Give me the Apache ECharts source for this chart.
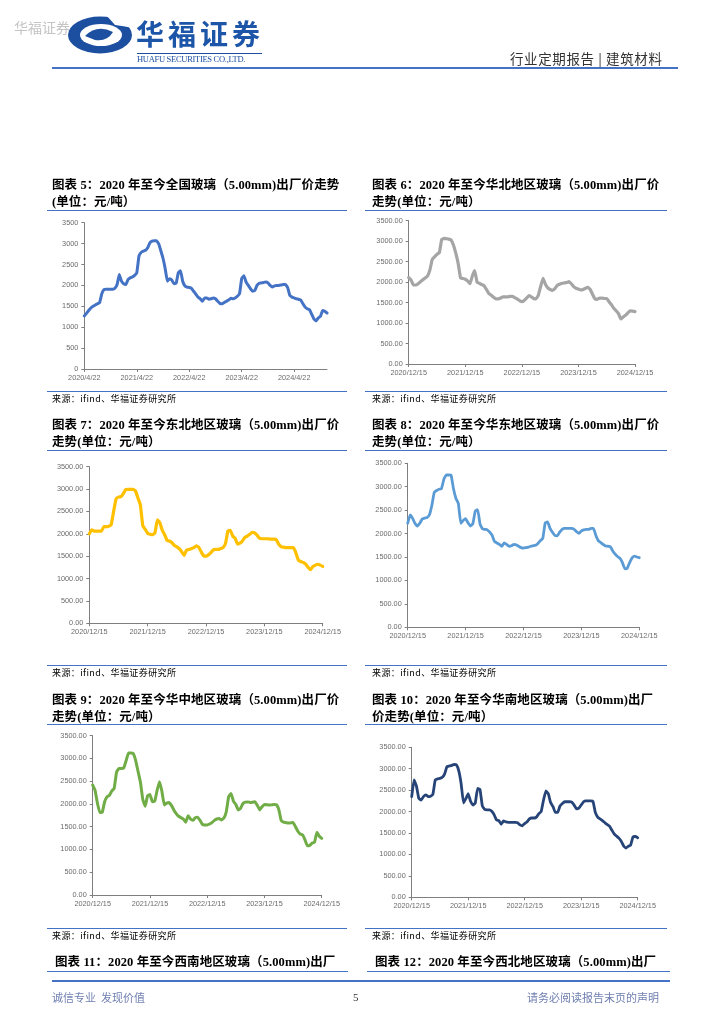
<!DOCTYPE html>
<html>
<head>
<meta charset="utf-8">
<script src="https://cdn.jsdelivr.net/npm/echarts@6/dist/echarts.min.js"></script>
<style>
body{margin:0;width:724px;height:1024px;background:#fff;position:relative;overflow:hidden;font-family:"Liberation Serif","Noto Sans CJK SC",serif;}
#chart{position:absolute;left:0;top:0;width:724px;height:1024px;}
.t{position:absolute;white-space:nowrap;}
.ttl{font-weight:bold;font-size:12.5px;color:#000;line-height:17px;letter-spacing:0.1px;}
.ln{position:absolute;height:0;border-top:1.5px solid #4472C4;}
.src{font-size:9px;color:#000;line-height:12px;font-family:"Noto Sans CJK SC",sans-serif;letter-spacing:0.4px;}
.foot{font-size:11px;color:#6f7fb0;line-height:14px;font-family:"Noto Sans CJK SC",sans-serif;}
</style>
</head>
<body>
<div id="chart"></div>

<!-- header -->
<div class="t" style="left:14px;top:17px;font-size:14px;color:#c4c4c4;font-family:'Noto Sans CJK SC';">华福证券</div>
<svg style="position:absolute;left:67px;top:16px;" width="66" height="38" viewBox="0 0 66 38">
  <ellipse cx="33" cy="19" rx="32" ry="18.5" fill="#1d4fa0"/>
  <ellipse cx="34" cy="19" rx="21" ry="11" fill="#fff"/>
  <path d="M18 20 Q30 8 46 16 Q40 26 28 24 Z" fill="#1d4fa0"/>
  <path d="M40 0 L66 0 L66 12 Q56 10 48 9 Z" fill="#fff"/>
</svg>
<div class="t" style="left:136px;top:17px;font-size:28px;font-weight:bold;color:#1d56a8;letter-spacing:4px;font-family:'Noto Sans CJK SC';line-height:32px;">华福证券</div>
<div class="ln" style="left:137px;top:53px;width:125px;border-top:1px solid #1d4fa0;"></div>
<div class="t" style="left:137px;top:54px;font-size:8.5px;color:#1d4fa0;letter-spacing:-0.3px;">HUAFU SECURITIES CO.,LTD.</div>
<div class="t" style="left:510px;top:48px;font-size:13.5px;color:#333;letter-spacing:0.6px;font-family:'Noto Sans CJK SC';">行业定期报告&nbsp;|&nbsp;建筑材料</div>
<div class="ln" style="left:52px;top:67px;width:626px;border-top:2px solid #4472C4;"></div>

<!-- row 1 -->
<div class="t ttl" style="left:52px;top:177px;">图表 5：2020 年至今全国玻璃（5.00mm)出厂价走势<br>(单位：元/吨）</div>
<div class="ln" style="left:47px;top:210px;width:300px;"></div>
<div class="ln" style="left:47px;top:391px;width:300px;"></div>
<div class="t src" style="left:52px;top:393px;">来源：ifind、华福证券研究所</div>

<div class="t ttl" style="left:372px;top:177px;">图表 6：2020 年至今华北地区玻璃（5.00mm)出厂价<br>走势(单位：元/吨）</div>
<div class="ln" style="left:365px;top:210px;width:302px;"></div>
<div class="ln" style="left:365px;top:391px;width:302px;"></div>
<div class="t src" style="left:372px;top:393px;">来源：ifind、华福证券研究所</div>

<!-- row 2 -->
<div class="t ttl" style="left:52px;top:417px;">图表 7：2020 年至今东北地区玻璃（5.00mm)出厂价<br>走势(单位：元/吨）</div>
<div class="ln" style="left:47px;top:450px;width:300px;"></div>
<div class="ln" style="left:47px;top:665px;width:300px;"></div>
<div class="t src" style="left:52px;top:667px;">来源：ifind、华福证券研究所</div>

<div class="t ttl" style="left:372px;top:417px;">图表 8：2020 年至今华东地区玻璃（5.00mm)出厂价<br>走势(单位：元/吨）</div>
<div class="ln" style="left:365px;top:450px;width:302px;"></div>
<div class="ln" style="left:365px;top:665px;width:302px;"></div>
<div class="t src" style="left:372px;top:667px;">来源：ifind、华福证券研究所</div>

<!-- row 3 -->
<div class="t ttl" style="left:52px;top:692px;">图表 9：2020 年至今华中地区玻璃（5.00mm)出厂价<br>走势(单位：元/吨）</div>
<div class="ln" style="left:47px;top:724px;width:300px;"></div>
<div class="ln" style="left:47px;top:928px;width:300px;"></div>
<div class="t src" style="left:52px;top:930px;">来源：ifind、华福证券研究所</div>

<div class="t ttl" style="left:372px;top:692px;">图表 10：2020 年至今华南地区玻璃（5.00mm)出厂<br>价走势(单位：元/吨）</div>
<div class="ln" style="left:365px;top:724px;width:302px;"></div>
<div class="ln" style="left:365px;top:928px;width:302px;"></div>
<div class="t src" style="left:372px;top:930px;">来源：ifind、华福证券研究所</div>

<!-- row 4 (cut) -->
<div class="t ttl" style="left:55px;top:954px;">图表 11：2020 年至今西南地区玻璃（5.00mm)出厂</div>
<div class="ln" style="left:47px;top:971px;width:301px;"></div>
<div class="t ttl" style="left:375px;top:954px;">图表 12：2020 年至今西北地区玻璃（5.00mm)出厂</div>
<div class="ln" style="left:367px;top:971px;width:303px;"></div>

<!-- footer -->
<div class="ln" style="left:52px;top:980px;width:618px;border-top:2px solid #4472C4;"></div>
<div class="t foot" style="left:52px;top:990px;">诚信专业&nbsp;&nbsp;发现价值</div>
<div class="t foot" style="left:353px;top:990px;color:#333;font-family:'Liberation Serif';">5</div>
<div class="t foot" style="left:527px;top:990px;">请务必阅读报告末页的声明</div>

<script>
// x axis tick labels
var ticks5 = ['2020/4/22', '2021/4/22', '2022/4/22', '2023/4/22', '2024/4/22'];
var ticksYear = ['2020/12/15', '2021/12/15', '2022/12/15', '2023/12/15', '2024/12/15'];

// 全国 (half-month points from 2020/4/22)
var national = [1270,1330,1400,1460,1500,1530,1560,1590,1800,1900,1910,1910,1910,1910,1930,2020,2260,2100,2040,2020,
    2140,2180,2200,2240,2300,2700,2790,2820,2840,2900,3020,3060,3070,3070,3000,2830,2650,2400,2100,2160,
    2130,2040,2050,2300,2350,2100,1990,1960,1950,1930,1860,1790,1720,1680,1620,1700,1700,1670,1680,1700,
    1680,1620,1570,1560,1590,1620,1650,1690,1680,1700,1740,1800,2170,2230,2080,2000,1920,1860,1880,2000,
    2050,2060,2070,2080,2060,2000,1960,1990,2000,2000,2010,2020,2020,1950,1760,1720,1700,1680,1670,1650,
    1560,1480,1440,1420,1310,1200,1150,1220,1260,1400,1380,1340];

// 华北 (half-month points from 2020/12/15)
var north = [2110,2050,1930,1930,1960,2010,2060,2100,2150,2300,2560,2620,2680,2720,3040,3070,3060,3050,3030,2900,
    2700,2450,2100,2090,2070,2030,1960,2150,2280,2000,1970,1940,1910,1820,1720,1680,1630,1590,1590,1610,
    1640,1640,1640,1650,1650,1620,1590,1550,1520,1550,1610,1670,1640,1600,1590,1680,1900,2090,1950,1860,
    1820,1800,1840,1920,1950,1970,1980,1990,2010,1960,1890,1850,1830,1810,1820,1850,1870,1820,1700,1590,
    1580,1610,1610,1600,1600,1520,1450,1360,1300,1230,1100,1150,1190,1250,1300,1290,1280];

// 东北
var northeast = [2000,2090,2060,2060,2060,2060,2160,2160,2170,2200,2500,2780,2820,2830,2900,2990,2995,2995,2995,2960,
    2800,2650,2180,2100,2010,1990,1980,2020,2310,2250,2080,1980,1850,1840,1800,1740,1710,1670,1600,1520,
    1640,1650,1670,1690,1730,1700,1600,1510,1500,1530,1580,1640,1650,1650,1670,1690,1780,2060,2080,1950,
    1900,1770,1790,1840,1920,1950,1990,2030,2020,1970,1900,1890,1890,1890,1885,1880,1880,1860,1760,1710,
    1700,1690,1690,1690,1690,1570,1410,1380,1360,1320,1250,1200,1270,1300,1320,1300,1270];

// 华东
var east = [2220,2400,2330,2220,2160,2220,2310,2330,2340,2400,2600,2880,2920,2945,2960,3160,3250,3250,3245,2950,
    2750,2640,2220,2280,2320,2230,2160,2210,2480,2510,2200,2100,2090,2080,2030,1960,1830,1800,1770,1730,
    1800,1770,1730,1740,1770,1760,1730,1700,1690,1700,1710,1730,1740,1750,1790,1850,1900,2230,2250,2110,
    2030,1960,1950,2030,2090,2110,2110,2110,2110,2090,2040,2005,2060,2080,2090,2090,2110,2110,1960,1850,
    1810,1770,1735,1730,1720,1630,1560,1510,1470,1380,1250,1260,1380,1480,1520,1500,1485];

// 华中
var central = [2415,2300,2010,1810,1815,2050,2155,2190,2285,2345,2700,2780,2780,2790,2950,3120,3120,3110,2960,2720,
    2480,2100,1950,2180,2210,2050,2060,2300,2490,2280,1980,2020,2035,1970,1870,1790,1730,1700,1670,1600,
    1740,1670,1640,1700,1710,1640,1550,1540,1540,1560,1590,1640,1670,1680,1650,1690,1830,2160,2230,2060,
    1990,1870,1905,2010,2040,2045,2035,2040,2050,1970,1870,1940,1990,1985,1975,1980,1990,1985,1880,1640,
    1600,1590,1580,1585,1595,1500,1400,1340,1320,1210,1080,1090,1140,1160,1380,1290,1245];

// 华南
var south = [2350,2740,2600,2310,2270,2350,2390,2350,2360,2400,2740,2765,2775,2800,2880,3050,3065,3080,3100,3090,
    2950,2650,2200,2300,2420,2240,2150,2200,2540,2520,2130,2050,2040,2040,2010,1930,1805,1790,1705,1780,
    1760,1750,1750,1750,1750,1740,1690,1670,1720,1760,1830,1850,1850,1870,1950,2000,2270,2480,2420,2210,
    2120,1980,1980,2130,2190,2230,2230,2230,2220,2150,2065,2080,2155,2230,2250,2250,2250,2240,1980,1870,
    1830,1790,1745,1700,1660,1570,1480,1430,1380,1310,1200,1150,1190,1220,1410,1420,1390];

var panels = [
    {data: national, ticks: ticks5, color: '#4472C4', width: 3, dec: 0, left: 84.3, top: 222.7, w: 242.7, h: 146.3},
    {data: north, ticks: ticksYear, color: '#A5A5A5', width: 3.2, dec: 2, left: 408.7, top: 220.7, w: 226.3, h: 143.3},
    {data: northeast, ticks: ticksYear, color: '#FFC000', width: 3.2, dec: 2, left: 89.3, top: 466.7, w: 233.4, h: 156.6},
    {data: east, ticks: ticksYear, color: '#5B9BD5', width: 2.8, dec: 2, left: 407.7, top: 463.3, w: 231.6, h: 164},
    {data: central, ticks: ticksYear, color: '#70AD47', width: 3, dec: 2, left: 92.7, top: 735.7, w: 229, h: 159.3},
    {data: south, ticks: ticksYear, color: '#264478', width: 2.8, dec: 2, left: 411.7, top: 747.3, w: 226, h: 150}
];

var axisColor = '#7f7f7f';
var labelStyle = {color: '#6b6b6b', fontSize: 7.3, fontFamily: 'Liberation Sans'};

var grids = [], xAxes = [], yAxes = [], series = [];
panels.forEach(function (p, k) {
    var cats = p.data.map(function (v, i) { return String(i); });
    grids.push({left: p.left, top: p.top, width: p.w, height: p.h});
    xAxes.push({
        gridIndex: k,
        type: 'category',
        boundaryGap: false,
        data: cats,
        axisLine: {lineStyle: {color: axisColor, width: 1}},
        axisTick: {interval: function (i) { return i % 24 === 0; }, length: 3, lineStyle: {color: axisColor}},
        axisLabel: Object.assign({
            interval: function (i) { return i % 24 === 0; },
            margin: 5,
            formatter: function (v, i) { return p.ticks[i / 24] || ''; }
        }, labelStyle),
        splitLine: {show: false}
    });
    yAxes.push({
        gridIndex: k,
        type: 'value',
        min: 0,
        max: 3500,
        interval: 500,
        axisLine: {show: true, lineStyle: {color: axisColor, width: 1}},
        axisTick: {show: true, length: 3, lineStyle: {color: axisColor}},
        axisLabel: Object.assign({
            margin: 6,
            formatter: function (v) { return v.toFixed(p.dec); }
        }, labelStyle),
        splitLine: {show: false}
    });
    series.push({
        type: 'line',
        xAxisIndex: k,
        yAxisIndex: k,
        data: p.data,
        showSymbol: false,
        smooth: 0.1,
        lineStyle: {color: p.color, width: p.width, join: 'round', cap: 'round'},
        animation: false
    });
});

var myChart = echarts.init(document.getElementById('chart'));
myChart.setOption({
    animation: false,
    grid: grids,
    xAxis: xAxes,
    yAxis: yAxes,
    series: series
});
</script>
</body>
</html>
